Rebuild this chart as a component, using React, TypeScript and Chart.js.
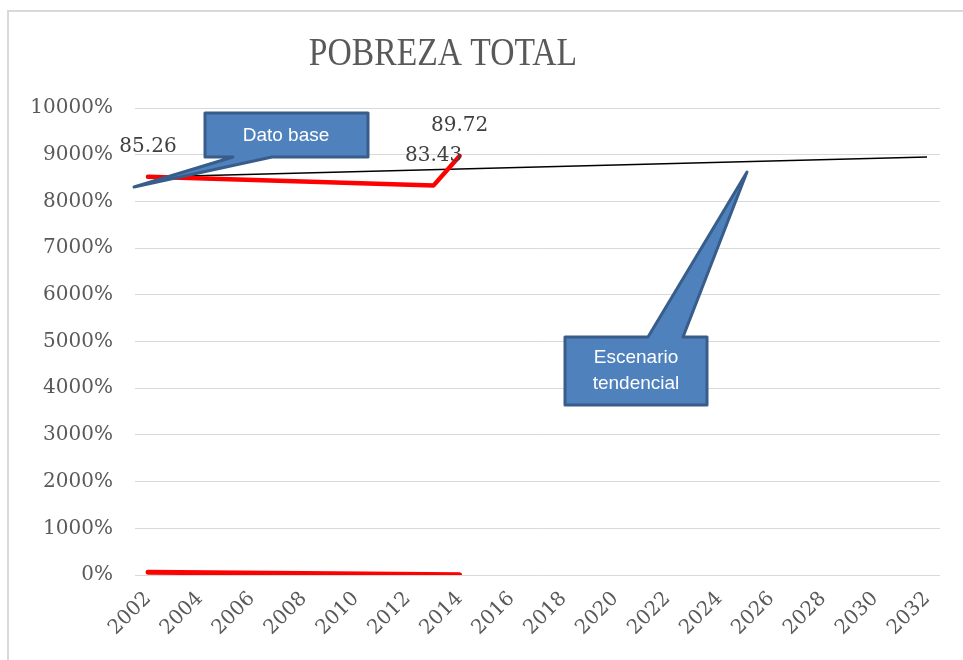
import React, { useEffect, useRef } from "react";
import { Chart, registerables } from "chart.js";

Chart.register(...registerables);

const chartTitle = "POBREZA TOTAL";
const xTickYears = [2002, 2004, 2006, 2008, 2010, 2012, 2014, 2016, 2018, 2020, 2022, 2024, 2026, 2028, 2030, 2032];

const pobrezaYears = [2002, 2013, 2014];
const pobrezaValues = [85.26, 83.43, 89.72];
const pobrezaLabels = ["85.26", "83.43", "89.72"];

const bajaYears = [2002, 2014];
const bajaValues = [0.6, 0.05];

const tendenciaYears = [2002, 2032];
const tendenciaValues = [85.2, 89.5];

const calloutDato = ["Dato base"];
const calloutEscenario = ["Escenario", "tendencial"];

const framePlugin = {
  id: "frame",
  beforeDraw(chart: any) {
    const ctx = chart.ctx;
    ctx.save();
    ctx.fillStyle = "#ffffff";
    ctx.fillRect(0, 0, chart.width, chart.height);
    ctx.strokeStyle = "#d9d9d9";
    ctx.lineWidth = 2;
    ctx.beginPath();
    ctx.moveTo(8, chart.height);
    ctx.lineTo(8, 11);
    ctx.lineTo(chart.width, 11);
    ctx.stroke();
    // title
    ctx.translate(443, 65);
    ctx.scale(0.84, 1);
    ctx.font = '40px "Liberation Serif"';
    ctx.fillStyle = "#595959";
    ctx.textAlign = "center";
    ctx.textBaseline = "alphabetic";
    ctx.fillText(chartTitle, 0, 0);
    ctx.restore();
  },
};

function drawCallout(ctx: any, pts: number[][], lines: string[], cx: number, cy: number) {
  ctx.save();
  ctx.beginPath();
  ctx.moveTo(pts[0][0], pts[0][1]);
  for (let i = 1; i < pts.length; i++) ctx.lineTo(pts[i][0], pts[i][1]);
  ctx.closePath();
  ctx.fillStyle = "#4f81bd";
  ctx.fill();
  ctx.lineJoin = "round";
  ctx.lineWidth = 3;
  ctx.strokeStyle = "#385d8a";
  ctx.stroke();
  ctx.fillStyle = "#ffffff";
  ctx.font = '19px "Liberation Sans", Arial, sans-serif';
  ctx.textAlign = "center";
  ctx.textBaseline = "middle";
  const lh = 26;
  const start = cy - ((lines.length - 1) * lh) / 2;
  lines.forEach((t, i) => ctx.fillText(t, cx, start + i * lh));
  ctx.restore();
}

const overlayPlugin = {
  id: "overlay",
  afterDatasetsDraw(chart: any) {
    const ctx = chart.ctx;
    const meta = chart.getDatasetMeta(0);
    ctx.save();
    ctx.font = '20px "DejaVu Serif"';
    ctx.fillStyle = "#404040";
    ctx.textAlign = "center";
    ctx.textBaseline = "middle";
    meta.data.forEach((el: any, i: number) => {
      ctx.fillText(pobrezaLabels[i], el.x, el.y - 30);
    });
    ctx.restore();

    drawCallout(
      ctx,
      [[205, 113], [368, 113], [368, 157], [272, 157], [134, 187], [233, 157], [205, 157]],
      calloutDato,
      286,
      136
    );
    drawCallout(
      ctx,
      [[565, 337], [648, 337], [747, 172], [683, 337], [707, 337], [707, 405], [565, 405]],
      calloutEscenario,
      636,
      371
    );
  },
};

export default function App() {
  const ref = useRef<HTMLCanvasElement | null>(null);
  useEffect(() => {
    if (!ref.current) return;
    const tickFont = { family: "DejaVu Serif", size: 20 };
    const chart = new Chart(ref.current, {
      type: "line",
      data: {
        datasets: [
          {
            label: "Pobreza total",
            data: pobrezaYears.map((x, i) => ({ x, y: pobrezaValues[i] })),
            borderColor: "#ff0000",
            borderWidth: 4.5,
            pointRadius: 0,
            tension: 0,
            borderCapStyle: "round",
            borderJoinStyle: "round",
          },
          {
            label: "Serie 2",
            data: bajaYears.map((x, i) => ({ x, y: bajaValues[i] })),
            borderColor: "#ff0000",
            borderWidth: 5,
            pointRadius: 0,
            borderCapStyle: "round",
          },
          {
            label: "Tendencia",
            data: tendenciaYears.map((x, i) => ({ x, y: tendenciaValues[i] })),
            borderColor: "#000000",
            borderWidth: 1.5,
            pointRadius: 0,
          },
        ],
      },
      options: {
        animation: false,
        responsive: false,
        maintainAspectRatio: false,
        layout: { padding: { top: 108, right: 23, bottom: 0, left: 0 } },
        plugins: {
          legend: { display: false },
          title: { display: false },
          tooltip: { enabled: false },
        },
        scales: {
          x: {
            type: "linear",
            min: 2001.5,
            max: 2032.5,
            grid: { display: false },
            border: { display: false },
            afterBuildTicks: (scale: any) => {
              scale.ticks = xTickYears.map((v) => ({ value: v }));
            },
            afterFit: (scale: any) => {
              scale.height = 85;
            },
            ticks: {
              autoSkip: false,
              minRotation: 45,
              maxRotation: 45,
              padding: 4,
              color: "#595959",
              font: tickFont,
              callback: (v: any) => String(v),
            },
          },
          y: {
            min: 0,
            max: 100,
            grid: { color: "#d9d9d9", lineWidth: 1, drawTicks: false },
            border: { display: false },
            afterFit: (scale: any) => {
              scale.width = 135;
            },
            ticks: {
              stepSize: 10,
              padding: 22,
              color: "#595959",
              font: tickFont,
              callback: (v: any) => `${Math.round(Number(v) * 100)}%`,
            },
          },
        },
      },
      plugins: [framePlugin, overlayPlugin],
    } as any);
    return () => chart.destroy();
  }, []);
  return (
    <div style={{ position: "fixed", left: 0, top: 0, width: 963, height: 660, overflow: "hidden", background: "#fff" }}>
      <canvas ref={ref} width={963} height={660} style={{ width: 963, height: 660, display: "block" }} />
    </div>
  );
}
